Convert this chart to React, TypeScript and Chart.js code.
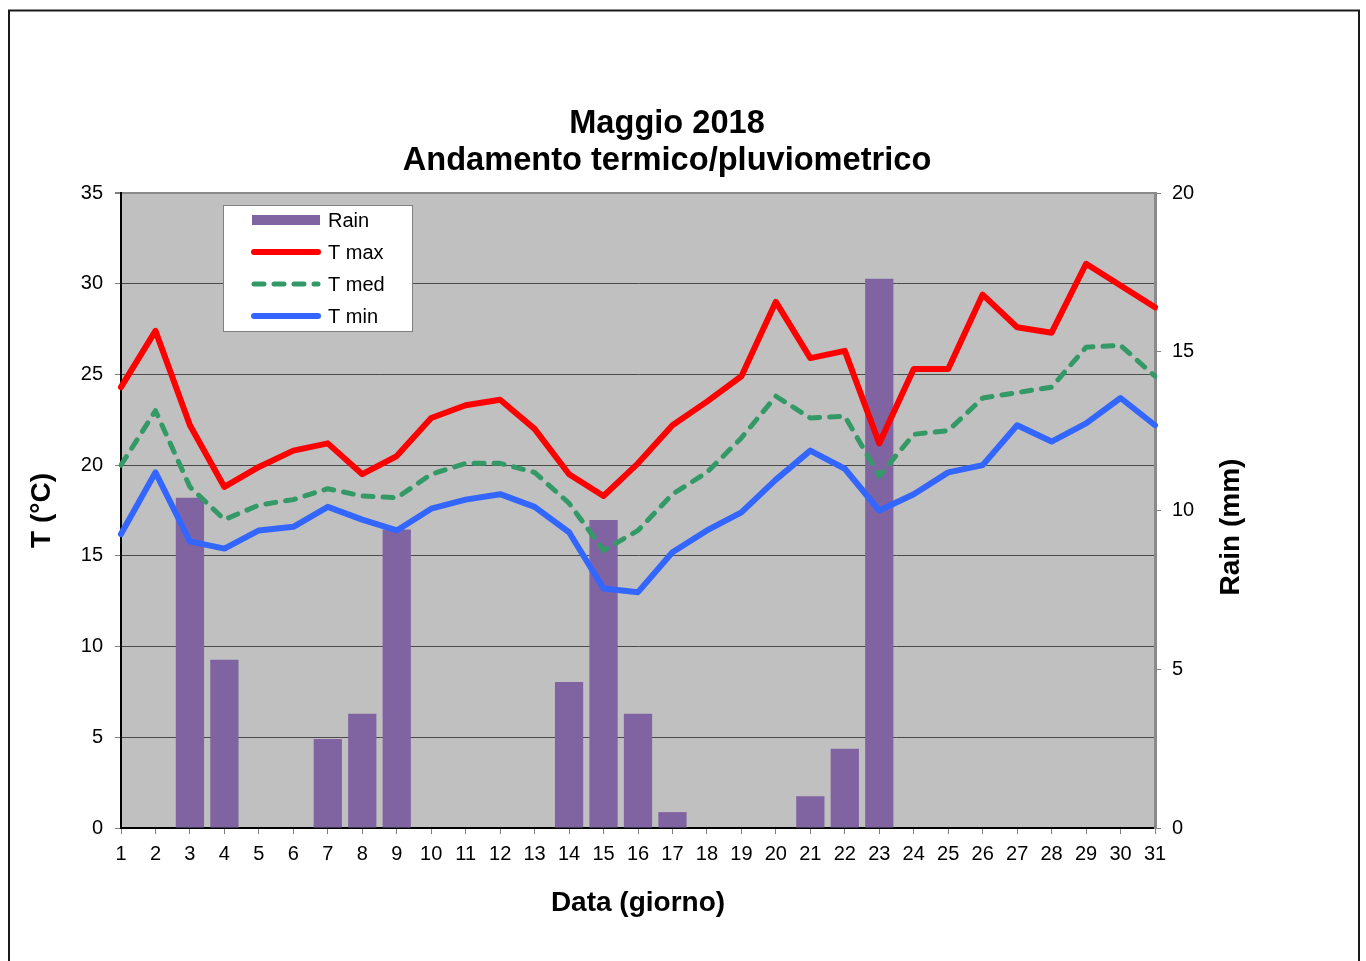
import React, { useEffect, useRef } from 'react';
import { Chart, registerables } from 'chart.js';

Chart.register(...registerables);

const days = ['1','2','3','4','5','6','7','8','9','10','11','12','13','14','15','16','17','18','19','20','21','22','23','24','25','26','27','28','29','30','31'];
const rain = [0, 0, 10.4, 5.3, 0, 0, 2.8, 3.6, 9.4, 0, 0, 0, 0, 4.6, 9.7, 3.6, 0.5, 0, 0, 0, 1.0, 2.5, 17.3, 0, 0, 0, 0, 0, 0, 0, 0];
const tMax = [24.3, 27.4, 22.2, 18.8, 19.9, 20.8, 21.2, 19.5, 20.5, 22.6, 23.3, 23.6, 22.0, 19.5, 18.3, 20.1, 22.2, 23.5, 24.9, 29.0, 25.9, 26.3, 21.2, 25.3, 25.3, 29.4, 27.6, 27.3, 31.1, 29.9, 28.7];
const tMed = [20.0, 23.0, 18.8, 17.0, 17.8, 18.1, 18.7, 18.3, 18.2, 19.5, 20.1, 20.1, 19.6, 17.9, 15.3, 16.4, 18.4, 19.6, 21.5, 23.8, 22.6, 22.7, 19.4, 21.7, 21.9, 23.7, 24.0, 24.3, 26.5, 26.6, 24.9];
const tMin = [16.2, 19.6, 15.8, 15.4, 16.4, 16.6, 17.7, 17.0, 16.4, 17.6, 18.1, 18.4, 17.7, 16.3, 13.2, 13.0, 15.2, 16.4, 17.4, 19.2, 20.8, 19.8, 17.5, 18.4, 19.6, 20.0, 22.2, 21.3, 22.3, 23.7, 22.2];
const tempTicks = { min: 0, max: 35, step: 5 };
const rainTicks = { min: 0, max: 20, step: 5 };

const titleLines = ['Maggio 2018', 'Andamento termico/pluviometrico'];
const xTitle = 'Data (giorno)';
const yTitle = 'T (°C)';
const y1Title = 'Rain (mm)';

const FONT = 'Arial, "Liberation Sans", sans-serif';

const bgPlugin = {
  id: 'plotBg',
  beforeDraw(chart: any) {
    const { ctx, chartArea: a } = chart;
    ctx.save();
    ctx.fillStyle = '#c0c0c0';
    ctx.fillRect(a.left, a.top, a.right - a.left, a.bottom - a.top);
    ctx.restore();
  },
};

const extrasPlugin = {
  id: 'extras',
  afterDraw(chart: any) {
    const { ctx } = chart;
    ctx.save();
    // outer frame
    ctx.strokeStyle = '#1a1a1a';
    ctx.lineWidth = 2;
    ctx.strokeRect(9, 10.5, 1350, 1000);

    // right axis title
    ctx.save();
    ctx.translate(1231, 527);
    ctx.rotate(-Math.PI / 2);
    ctx.font = `bold 28px ${FONT}`;
    ctx.fillStyle = '#000';
    ctx.textAlign = 'center';
    ctx.textBaseline = 'middle';
    ctx.fillText(y1Title, 0, 0);
    ctx.restore();

    // legend
    const bx = 223.5, by = 205.5, bw = 189, bh = 126;
    ctx.fillStyle = '#ffffff';
    ctx.fillRect(bx, by, bw, bh);
    ctx.strokeStyle = '#808080';
    ctx.lineWidth = 1;
    ctx.strokeRect(bx, by, bw, bh);
    const ds = chart.data.datasets;
    const order = [3, 0, 1, 2];
    order.forEach((di, i) => {
      const d = ds[di];
      const cy = 220 + i * 32;
      if (d.type === 'bar') {
        ctx.fillStyle = d.backgroundColor;
        ctx.fillRect(252, cy - 5, 68, 10);
      } else {
        ctx.save();
        ctx.strokeStyle = d.borderColor;
        ctx.lineWidth = d.borderWidth;
        ctx.lineCap = 'round';
        ctx.setLineDash(d.borderDash || []);
        ctx.beginPath();
        ctx.moveTo(254, cy);
        ctx.lineTo(318, cy);
        ctx.stroke();
        ctx.restore();
      }
      ctx.fillStyle = '#000';
      ctx.font = `20px ${FONT}`;
      ctx.textAlign = 'left';
      ctx.textBaseline = 'middle';
      ctx.fillText(d.label, 328, cy + 1);
    });
    ctx.restore();
  },
};

export default function App() {
  const ref = useRef<HTMLCanvasElement | null>(null);

  useEffect(() => {
    if (!ref.current) return;
    Chart.defaults.font.family = FONT;
    Chart.defaults.color = '#000';
    const chart = new Chart(ref.current, {
      type: 'line',
      data: {
        labels: days,
        datasets: [
          {
            type: 'line',
            label: 'T max',
            data: tMax,
            yAxisID: 'y',
            borderColor: '#ff0000',
            backgroundColor: '#ff0000',
            borderWidth: 6,
            pointRadius: 0,
            tension: 0,
            borderJoinStyle: 'round',
            borderCapStyle: 'round',
            order: 1,
          },
          {
            type: 'line',
            label: 'T med',
            data: tMed,
            yAxisID: 'y',
            borderColor: '#339966',
            backgroundColor: '#339966',
            borderWidth: 5,
            borderDash: [10, 10],
            borderCapStyle: 'round',
            borderJoinStyle: 'round',
            pointRadius: 0,
            tension: 0,
            order: 2,
          },
          {
            type: 'line',
            label: 'T min',
            data: tMin,
            yAxisID: 'y',
            borderColor: '#3366ff',
            backgroundColor: '#3366ff',
            borderWidth: 6,
            pointRadius: 0,
            tension: 0,
            borderJoinStyle: 'round',
            borderCapStyle: 'round',
            order: 3,
          },
          {
            type: 'bar',
            label: 'Rain',
            data: rain,
            yAxisID: 'y1',
            backgroundColor: '#8064a2',
            borderColor: '#9a86b6',
            borderWidth: 0,
            barPercentage: 0.82,
            categoryPercentage: 1,
            order: 4,
          },
        ] as any,
      },
      options: {
        responsive: false,
        animation: false,
        devicePixelRatio: 1,
        layout: { padding: { left: 0, right: 32, top: 0, bottom: 0 } },
        plugins: {
          legend: { display: false },
          tooltip: { enabled: false },
          title: {
            display: true,
            text: titleLines,
            color: '#000',
            font: { size: 32.6, weight: 'bold', family: FONT, lineHeight: 1.135 },
            padding: { top: 105.4, bottom: 13.6 },
          },
        },
        scales: {
          x: {
            type: 'category',
            offset: false,
            grid: {
              offset: false,
              drawOnChartArea: false,
              color: 'rgba(0,0,0,0)',
              tickColor: '#808080',
              tickLength: 6,
            },
            border: { color: '#000', width: 2 },
            ticks: { font: { size: 20 }, color: '#000', padding: 8, autoSkip: false, maxRotation: 0 },
            title: {
              display: true,
              text: xTitle,
              color: '#000',
              font: { size: 28, weight: 'bold' },
              padding: { top: 0, bottom: 41 },
            },
            afterFit(scale: any) {
              scale.height = 133;
            },
          },
          y: {
            type: 'linear',
            position: 'left',
            min: tempTicks.min,
            max: tempTicks.max,
            ticks: { stepSize: tempTicks.step, font: { size: 20 }, color: '#000', padding: 12 },
            grid: {
              color: (c: any) => (c.tick && c.tick.value === tempTicks.max ? '#8a8a8a' : '#4a4a4a'),
              lineWidth: (c: any) => (c.tick && c.tick.value === tempTicks.max ? 2 : 1),
              tickColor: '#808080',
              tickLength: 6,
            },
            border: { color: '#000', width: 2 },
            title: {
              display: true,
              text: yTitle,
              color: '#000',
              font: { size: 28, weight: 'bold' },
              padding: { top: 25, bottom: 0 },
            },
            afterFit(scale: any) {
              scale.width = 121;
            },
          },
          y1: {
            type: 'linear',
            position: 'right',
            min: rainTicks.min,
            max: rainTicks.max,
            ticks: { stepSize: rainTicks.step, font: { size: 20 }, color: '#000', padding: 11 },
            grid: {
              drawOnChartArea: false,
              tickColor: '#808080',
              tickLength: 6,
            },
            border: { color: '#8a8a8a', width: 3 },
            afterFit(scale: any) {
              scale.width = 179;
            },
          },
        },
      } as any,
      plugins: [bgPlugin, extrasPlugin],
    });
    return () => chart.destroy();
  }, []);

  return (
    <div style={{ position: 'absolute', left: 0, top: 0, width: 1366, height: 961, overflow: 'hidden', background: '#fff' }}>
      <canvas ref={ref} width={1366} height={961} style={{ display: 'block', width: 1366, height: 961 }} />
    </div>
  );
}
